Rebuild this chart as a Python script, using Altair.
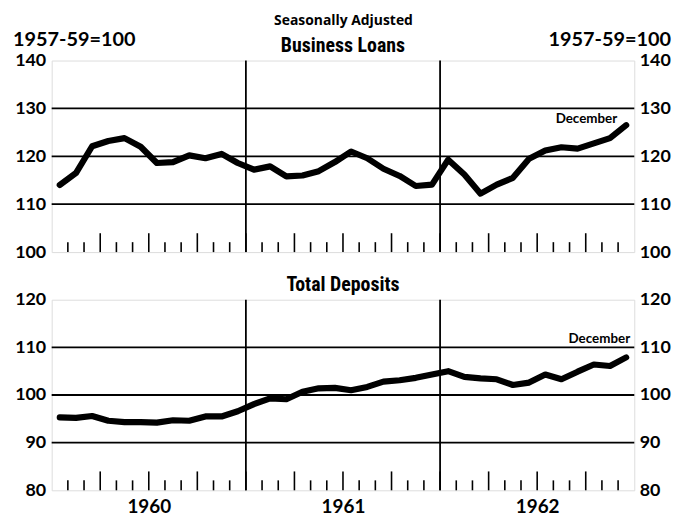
import altair as alt
import pandas as pd

# ---- data (monthly, Jan 1960 .. Dec 1962), 1957-59 = 100 ----
years = [1960, 1961, 1962]
business_loans = [114.0, 116.5, 122.1, 123.2, 123.8, 122.0, 118.6, 118.8, 120.2, 119.6, 120.5, 118.6,
                  117.2, 117.9, 115.8, 116.0, 116.9, 118.8, 121.0, 119.6, 117.4, 115.9, 113.8, 114.1,
                  119.3, 116.2, 112.2, 114.1, 115.5, 119.5, 121.2, 121.9, 121.6, 122.7, 123.8, 126.5]
total_deposits = [95.3, 95.2, 95.6, 94.6, 94.3, 94.3, 94.2, 94.7, 94.6, 95.5, 95.5, 96.6,
                  98.1, 99.3, 99.1, 100.7, 101.4, 101.5, 101.0, 101.7, 102.8, 103.1, 103.6, 104.3,
                  105.0, 103.8, 103.5, 103.3, 102.1, 102.6, 104.3, 103.3, 104.9, 106.4, 106.1, 107.9]
loans_ticks = [100, 110, 120, 130, 140]
deposit_ticks = [80, 90, 100, 110, 120]
year_dividers = [1961, 1962]

NUM_FONT = "Lato"
TITLE_FONT = "Liberation Sans Narrow, Roboto Condensed, Roboto"
W = 587

n = len(business_loans)
t_mid = [years[0] + (i + 0.5) / 12 for i in range(n)]
bounds = pd.DataFrame({"m": [years[0] + k / 12 for k in range(1, n)],
                       "q": [k % 3 == 0 for k in range(1, n)]})
x_scale = alt.Scale(domain=[years[0], years[-1] + 1], nice=False, zero=False)


def x_enc(field, show):
    if show:
        ax = alt.Axis(values=[y + 0.5 for y in years], labelExpr="'' + floor(datum.value)",
                      ticks=False, domain=False, grid=False, title=None,
                      labelFont=NUM_FONT, labelFontSize=19, labelFontWeight="bold",
                      labelColor="black", labelPadding=7)
    else:
        ax = None
    return alt.X(field, type="quantitative", scale=x_scale, axis=ax)


def text_layer(s, x, y, align, size, font, baseline="alphabetic"):
    return alt.Chart(pd.DataFrame({"s": [s]})).mark_text(
        align=align, baseline=baseline, font=font, fontSize=size,
        fontWeight="bold", color="black").encode(
        text="s:N", x=alt.value(x), y=alt.value(y))


def panel(values, ticks, title, H, note_dx, note_dy, show_years, extras):
    lo, hi = ticks[0], ticks[-1]
    y_scale = alt.Scale(domain=[lo, hi], nice=False, zero=False)
    df = pd.DataFrame({"t": t_mid, "v": values})
    axis_style = dict(values=ticks, ticks=False, domain=False, grid=False, title=None,
                      labelFont=NUM_FONT, labelFontSize=18, labelFontWeight="bold",
                      labelColor="black", labelOverlap=False)
    hgrid = alt.Chart(pd.DataFrame({"g": ticks[1:-1]})).mark_rule(
        color="black", strokeWidth=1.8).encode(
        y=alt.Y("g:Q", scale=y_scale, axis=alt.Axis(orient="left", labelPadding=6, **axis_style)))
    vdiv = alt.Chart(pd.DataFrame({"d": year_dividers})).mark_rule(
        color="black", strokeWidth=1.8).encode(x=x_enc("d", show_years))
    small = alt.Chart(bounds).transform_filter("!datum.q").mark_rule(
        color="black", strokeWidth=1.6).encode(
        x=x_enc("m", show_years), y=alt.value(H), y2=alt.value(H - 10))
    tall = alt.Chart(bounds).transform_filter("datum.q").mark_rule(
        color="black", strokeWidth=1.6).encode(
        x=x_enc("m", show_years), y=alt.value(H), y2=alt.value(H - 19))
    line = alt.Chart(df).mark_line(
        color="black", strokeWidth=6.2, strokeJoin="round", strokeCap="round").encode(
        x=x_enc("t", show_years),
        y=alt.Y("v:Q", scale=y_scale, axis=alt.Axis(orient="right", labelPadding=5, **axis_style)))
    note = alt.Chart(df.tail(1)).mark_text(
        text="December", align="right", baseline="alphabetic", dx=note_dx, dy=note_dy,
        font=NUM_FONT, fontSize=13.5, fontWeight="bold", color="black").encode(
        x=x_enc("t", show_years), y=alt.Y("v:Q", scale=y_scale, axis=None))
    ttl = text_layer(title, W / 2, -9, "center", 20, TITLE_FONT)
    layers = [hgrid, vdiv, small, tall, line, note, ttl] + extras
    return alt.layer(*layers).resolve_scale(y="independent").properties(width=W, height=H)


top_extras = [
    text_layer("1957-59=100", -39, -15, "left", 20, NUM_FONT),
    text_layer("1957-59=100", 624, -15, "right", 20, NUM_FONT),
    text_layer("Seasonally Adjusted", 294, -36, "center", 14, "Open Sans"),
]

top = panel(business_loans, loans_ticks, "Business Loans", 193, -9, -2, False, top_extras)
bottom = panel(total_deposits, deposit_ticks, "Total Deposits", 192, 4, -14, True, [])

chart = alt.vconcat(top, bottom, spacing=48, bounds="flush").properties(
    padding={"left": 4, "top": 3, "right": 0, "bottom": 0}
).configure_view(stroke="black", strokeWidth=2).configure(background="white")

chart.save("out.html", embed_options={"renderer": "svg", "actions": False})
